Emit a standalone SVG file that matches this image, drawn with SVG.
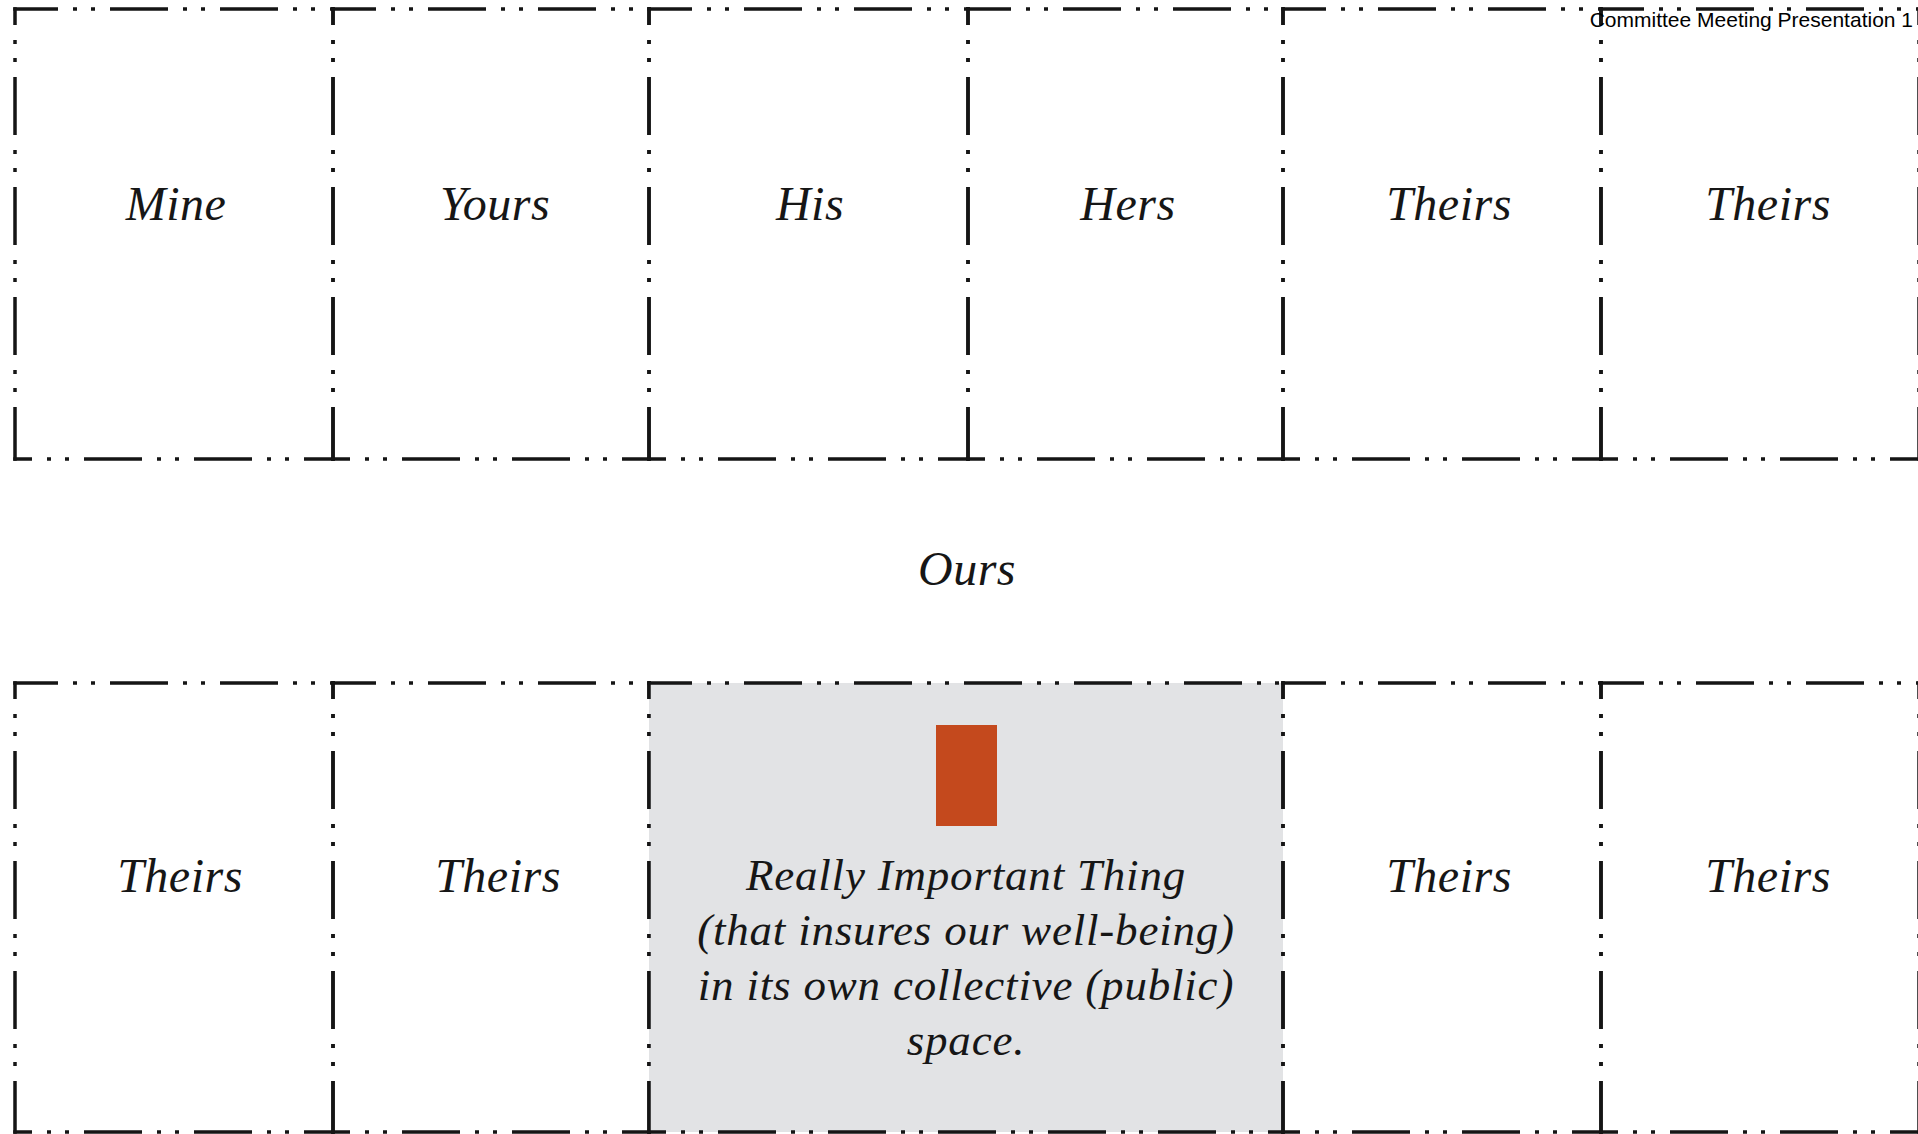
<svg xmlns="http://www.w3.org/2000/svg" width="1918" height="1134" viewBox="0 0 1918 1134">
<style>
  .e { stroke: #151515; stroke-width: 3.5; fill: none; stroke-dasharray: 58 15 4 14 4 15; stroke-linecap: butt; }
  .t { stroke-dashoffset: 13.25; }
  .b { stroke-dashoffset: 39.25; }
  .v { stroke-dashoffset: 40.25; }
  .lbl { font-family: "Liberation Serif", "DejaVu Serif", serif; font-style: italic; font-size: 48px; letter-spacing: 0.5px; fill: #161616; text-anchor: middle; }
  .body { font-family: "Liberation Serif", "DejaVu Serif", serif; font-style: italic; font-size: 45px; letter-spacing: 0.8px; fill: #161616; text-anchor: middle; }
  .hdr { font-family: "Liberation Sans", Arial, sans-serif; font-size: 21px; fill: #000; text-anchor: end; }
</style>
<rect x="0" y="0" width="1918" height="1134" fill="#ffffff"/>

<!-- Top row -->
<g id="box-mine">
  <line class="e t" x1="13.25" y1="9" x2="334.75" y2="9"/>
  <line class="e b" x1="13.25" y1="459" x2="334.75" y2="459"/>
  <line class="e v" x1="15" y1="7.25" x2="15" y2="460.75"/>
  <line class="e v" x1="333" y1="7.25" x2="333" y2="460.75"/>
  <text class="lbl" x="176" y="220">Mine</text>
</g>
<g id="box-yours">
  <line class="e t" x1="331.25" y1="9" x2="650.75" y2="9"/>
  <line class="e b" x1="331.25" y1="459" x2="650.75" y2="459"/>
  <line class="e v" x1="333" y1="7.25" x2="333" y2="460.75"/>
  <line class="e v" x1="649" y1="7.25" x2="649" y2="460.75"/>
  <text class="lbl" x="495" y="220">Yours</text>
</g>
<g id="box-his">
  <line class="e t" x1="647.25" y1="9" x2="969.75" y2="9"/>
  <line class="e b" x1="647.25" y1="459" x2="969.75" y2="459"/>
  <line class="e v" x1="649" y1="7.25" x2="649" y2="460.75"/>
  <line class="e v" x1="968" y1="7.25" x2="968" y2="460.75"/>
  <text class="lbl" x="810" y="220">His</text>
</g>
<g id="box-hers">
  <line class="e t" x1="966.25" y1="9" x2="1284.75" y2="9"/>
  <line class="e b" x1="966.25" y1="459" x2="1284.75" y2="459"/>
  <line class="e v" x1="968" y1="7.25" x2="968" y2="460.75"/>
  <line class="e v" x1="1283" y1="7.25" x2="1283" y2="460.75"/>
  <text class="lbl" x="1128" y="220">Hers</text>
</g>
<g id="box-theirs-top-1">
  <line class="e t" x1="1281.25" y1="9" x2="1602.75" y2="9"/>
  <line class="e b" x1="1281.25" y1="459" x2="1602.75" y2="459"/>
  <line class="e v" x1="1283" y1="7.25" x2="1283" y2="460.75"/>
  <line class="e v" x1="1601" y1="7.25" x2="1601" y2="460.75"/>
  <text class="lbl" x="1449" y="220">Theirs</text>
</g>
<g id="box-theirs-top-2">
  <line class="e t" x1="1599.25" y1="9" x2="1920.75" y2="9"/>
  <line class="e b" x1="1599.25" y1="459" x2="1920.75" y2="459"/>
  <line class="e v" x1="1601" y1="7.25" x2="1601" y2="460.75"/>
  <line class="e v" x1="1919" y1="7.25" x2="1919" y2="460.75"/>
  <text class="lbl" x="1768" y="220">Theirs</text>
</g>

<!-- Middle label -->
<g id="label-ours">
  <text class="lbl" x="967" y="585">Ours</text>
</g>

<!-- Bottom row -->
<g id="box-theirs-bottom-1">
  <line class="e t" x1="13.25" y1="683" x2="334.75" y2="683"/>
  <line class="e b" x1="13.25" y1="1132" x2="334.75" y2="1132"/>
  <line class="e v" x1="15" y1="681.25" x2="15" y2="1133.75"/>
  <line class="e v" x1="333" y1="681.25" x2="333" y2="1133.75"/>
  <text class="lbl" x="180" y="892">Theirs</text>
</g>
<g id="box-theirs-bottom-2">
  <line class="e t" x1="331.25" y1="683" x2="650.75" y2="683"/>
  <line class="e b" x1="331.25" y1="1132" x2="650.75" y2="1132"/>
  <line class="e v" x1="333" y1="681.25" x2="333" y2="1133.75"/>
  <line class="e v" x1="649" y1="681.25" x2="649" y2="1133.75"/>
  <text class="lbl" x="498" y="892">Theirs</text>
</g>
<g id="box-important">
  <rect x="649" y="683" width="634" height="449" fill="#E2E3E5"/>
  <line class="e t" x1="647.25" y1="683" x2="1284.75" y2="683"/>
  <line class="e b" x1="647.25" y1="1132" x2="1284.75" y2="1132"/>
  <line class="e v" x1="649" y1="681.25" x2="649" y2="1133.75"/>
  <line class="e v" x1="1283" y1="681.25" x2="1283" y2="1133.75"/>
  <rect x="936" y="725" width="61" height="101" fill="#C4491D"/>
  <text class="body" x="966" y="890">Really Important Thing</text>
  <text class="body" x="966" y="945">(that insures our well-being)</text>
  <text class="body" x="966" y="1000">in its own collective (public)</text>
  <text class="body" x="966" y="1055">space.</text>
</g>
<g id="box-theirs-bottom-3">
  <line class="e t" x1="1281.25" y1="683" x2="1602.75" y2="683"/>
  <line class="e b" x1="1281.25" y1="1132" x2="1602.75" y2="1132"/>
  <line class="e v" x1="1283" y1="681.25" x2="1283" y2="1133.75"/>
  <line class="e v" x1="1601" y1="681.25" x2="1601" y2="1133.75"/>
  <text class="lbl" x="1449" y="892">Theirs</text>
</g>
<g id="box-theirs-bottom-4">
  <line class="e t" x1="1599.25" y1="683" x2="1920.75" y2="683"/>
  <line class="e b" x1="1599.25" y1="1132" x2="1920.75" y2="1132"/>
  <line class="e v" x1="1601" y1="681.25" x2="1601" y2="1133.75"/>
  <line class="e v" x1="1919" y1="681.25" x2="1919" y2="1133.75"/>
  <text class="lbl" x="1768" y="892">Theirs</text>
</g>

<g id="connectors"></g>

<g id="header">
  <text class="hdr" x="1913" y="27">Committee Meeting Presentation 1</text>
</g>
</svg>
